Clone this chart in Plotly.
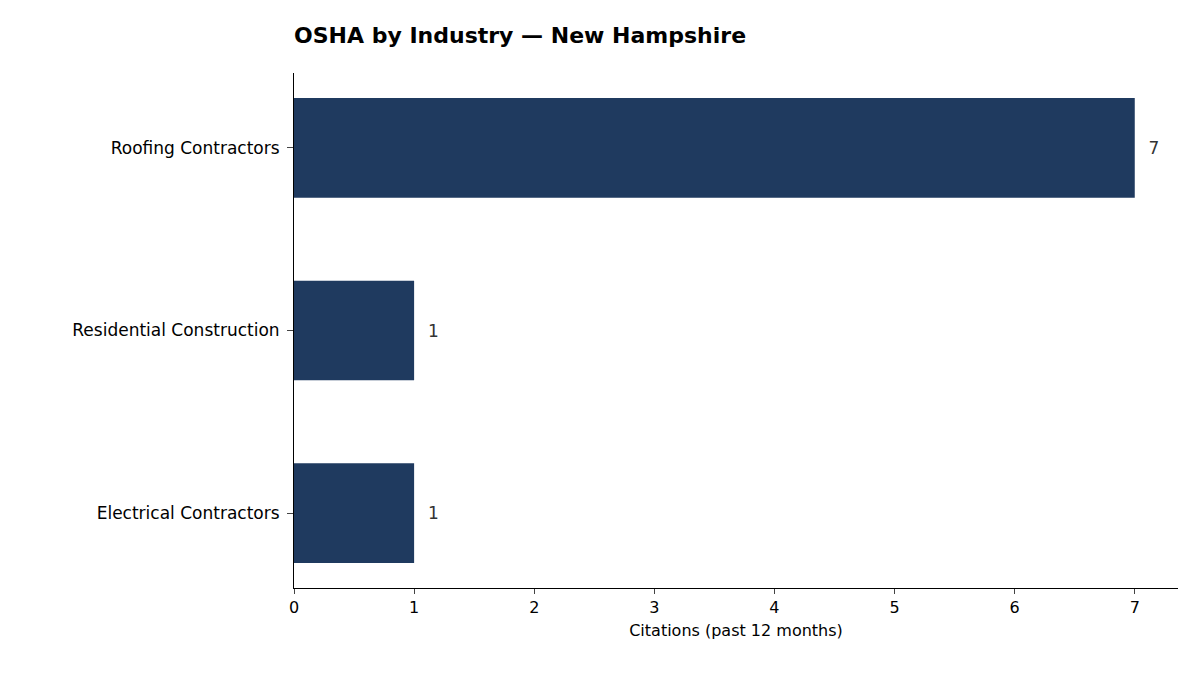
import plotly.graph_objects as go

industries = ["Electrical Contractors", "Residential Construction", "Roofing Contractors"]
citations = [1, 1, 7]

fig = go.Figure(go.Bar(
    x=citations, y=industries, orientation="h",
    marker=dict(color="#1f3a5f", line=dict(width=0)),
    width=0.545,
    text=["  " + str(v) for v in citations], textposition="outside",
    textfont=dict(size=17, color="#333333"),
    cliponaxis=False,
))

W, H = 1185, 660
fig.update_layout(
    width=W, height=H,
    paper_bgcolor="white", plot_bgcolor="white",
    font=dict(family="DejaVu Sans", size=17, color="black"),
    margin=dict(l=286, r=15, t=65, b=80),
    title=dict(text="<b>OSHA by Industry — New Hampshire</b>", x=286/W, xanchor="left",
               y=1 - 27/H, yanchor="middle", font=dict(size=22)),
    showlegend=False,
)
fig.update_xaxes(range=[0, 7.36], dtick=1, showgrid=False, zeroline=False,
                 showline=True, linecolor="black", ticks="outside", ticklen=5,
                 tickfont=dict(size=16),
                 title=dict(text="Citations (past 12 months)", standoff=8, font=dict(size=16)))
fig.update_yaxes(range=[-0.41, 2.41], showgrid=False, showline=True, linecolor="black",
                 ticks="outside", ticklen=6, ticklabelstandoff=4, tickfont=dict(size=17))
fig.write_html("out.html")
